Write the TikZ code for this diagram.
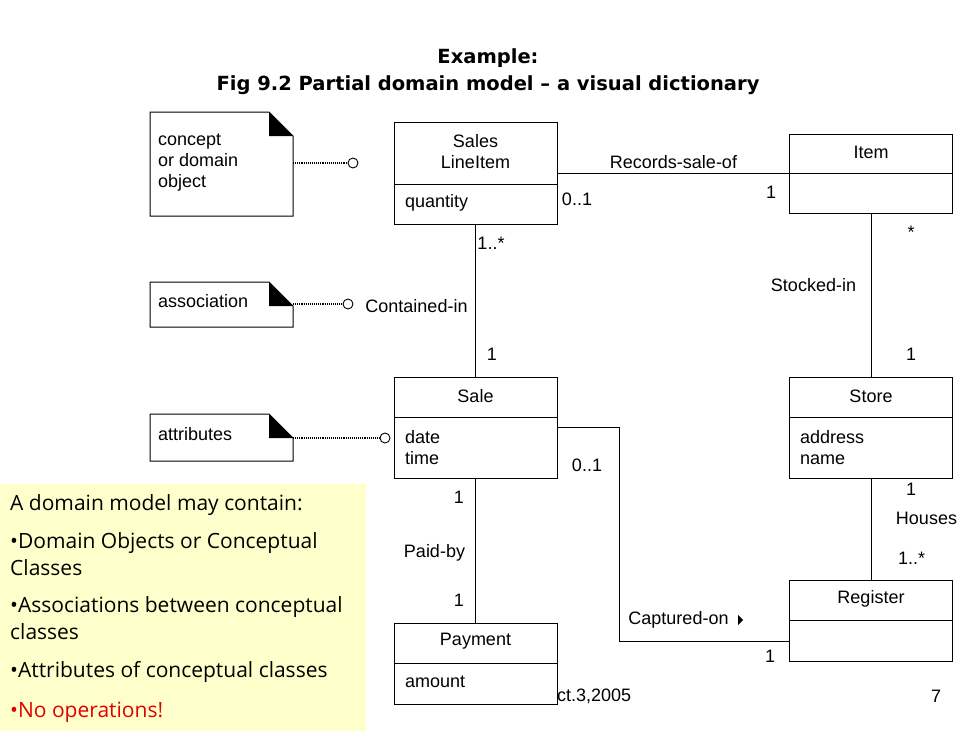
\documentclass[tikz,border=0pt]{standalone}
\usepackage{fontspec}
\setmainfont{Liberation Sans}
\newfontfamily\titlefont{DejaVu Sans}
\newfontfamily\memofont{Open Sans}
\usetikzlibrary{positioning,calc}
\definecolor{memoyellow}{RGB}{255,255,204}
\definecolor{memored}{RGB}{225,0,0}

\begin{document}
\begin{tikzpicture}[x=1pt,y=-1pt,
  every node/.style={font=\fontsize{18}{21}\selectfont},
  umlclass/.style={draw,line width=1pt,fill=white,inner sep=0pt,outer sep=0pt,minimum width=163},
  notebox/.style={inner sep=0pt,outer sep=0pt,minimum width=143},
  lbl/.style={anchor=west,inner sep=0pt,align=left},
  hook/.style={circle,draw,fill=white,inner sep=0pt,minimum size=10,line width=0.9pt},
  notelink/.style={densely dotted,line width=1.1pt},
  assoc/.style={line width=1pt},
  memotext/.style={anchor=west,inner sep=0pt,font=\memofont\fontsize{21}{25}\selectfont}]
  \useasboundingbox (0,0) rectangle (975,731);
  % ---------- title ----------
  \node[font=\titlefont\bfseries\fontsize{19.5}{23}\selectfont] (ttl) at (488,58) {Example:};
  \node[font=\titlefont\bfseries\fontsize{19.5}{23}\selectfont] (subttl) at (488,85)
    {Fig 9.2 Partial domain model – a visual dictionary};
  % ---------- footer ----------
  \node[lbl] (footdate) at (557,696) {ct.3,2005};
  \node (footpage) at (936,696) {7};
  % ---------- conceptual classes ----------
  \node[umlclass,minimum height=102] (sli) at (475.5,173) {};
  \node[umlclass,minimum height=79] (item) at (871,173.5) {};
  \node[umlclass,minimum height=101] (sale) at (475.5,427.5) {};
  \node[umlclass,minimum height=101] (store) at (871,427.5) {};
  \node[umlclass,minimum height=81] (reg) at (871,620.5) {};
  \node[umlclass,minimum height=81] (pay) at (475.5,663.5) {};
  \foreach \c/\d in {sli/184,item/173,sale/417,store/417,reg/620,pay/663}
    \draw[line width=1pt] (\c.west |- 0,\d) -- (\c.east |- 0,\d);
  \node[align=center] (slititle) at (475.5,152) {Sales\\LineItem};
  \node (itemtitle) at (871,152) {Item};
  \node (saletitle) at (475.5,396) {Sale};
  \node (storetitle) at (871,396) {Store};
  \node (regtitle) at (871,599) {Register};
  \node (paytitle) at (475.5,641) {Payment};
  \node[lbl] (sliattr) at (405,203) {quantity};
  \node[lbl] (saleattr) at (405,447.5) {date\\time};
  \node[lbl] (storeattr) at (800,447.5) {address\\name};
  \node[lbl] (payattr) at (405,682) {amount};
  % ---------- associations ----------
  \draw[assoc] (sli.east |- item.west) -- (item.west);
  \draw[assoc] (item.south) -- (store.north);
  \draw[assoc] (sli.south) -- (sale.north);
  \draw[assoc] (sale.south) -- (pay.north);
  \draw[assoc] (store.south) -- (reg.north);
  \coordinate (capbend) at (619,641);
  \draw[assoc] (sale.east) -| (capbend) -- (capbend -| reg.west);
  \node (recordslbl) at (673.5,162) {Records-sale-of};
  \node (recm1) at (577,199) {0..1};
  \node (recm2) at (771,192) {1};
  \node (stockm1) at (911,232) {*};
  \node (stocklbl) at (813.5,285) {Stocked-in};
  \node (stockm2) at (911,354) {1};
  \node (contm1) at (491,243) {1..*};
  \node (contlbl) at (416.5,306) {Contained-in};
  \node (contm2) at (492,354) {1};
  \node (capm1) at (587,465) {0..1};
  \node (caplbl) at (678.5,620) {Captured-on};
  \fill ([xshift=6pt]caplbl.east) ++(0,-5) -- ++(5,5) -- ++(-5,5) -- cycle;
  \node (capm2) at (770,656) {1};
  \node (housm1) at (911,489) {1};
  \node (houslbl) at (926.5,518) {Houses};
  \node (housm2) at (911.5,558) {1..*};
  \node (paidm1) at (459,497) {1};
  \node (paidlbl) at (434.5,553) {Paid-by};
  \node (paidm2) at (459,600) {1};
  % ---------- notes ----------
  \foreach \n/\y/\h/\ty/\t/\cy/\cx in {concept/164/104/163/{concept\\or domain\\object}/163/353,
      assoc/304.5/45/301/{association}/304/348,
      attr/437.5/47/434/{attributes}/438/385}
  {
    \node[notebox,minimum height=\h] (\n-note) at (221.5,\y) {};
    \draw[line width=1pt] (\n-note.north west) -- ([xshift=-24pt]\n-note.north east)
      -- ([yshift=-24pt]\n-note.north east) -- (\n-note.south east)
      -- (\n-note.south west) -- cycle;
    \fill ([xshift=-24pt]\n-note.north east) -- ([xshift=-24pt,yshift=-24pt]\n-note.north east)
      -- ([yshift=-24pt]\n-note.north east) -- cycle;
    \node[lbl] (\n-txt) at (158,\ty) {\t};
    \node[hook] (\n-hook) at (\cx,\cy) {};
    \draw[notelink] (\n-note.east |- \n-hook) -- (\n-hook);
  }
  % ---------- memo ----------
  \node[fill=memoyellow,anchor=north west,inner sep=0pt,minimum width=366,minimum height=247] (memo) at (0,484) {};
  \foreach \i/\y/\t in {1/505/{A domain model may contain:},
      2/543/{•Domain Objects or Conceptual},3/568/{Classes},
      4/607/{•Associations between conceptual},5/632/{classes},
      6/672/{•Attributes of conceptual classes}}
    \node[memotext] (memo\i) at (10,\y) {\t};
  \node[memotext,text=memored] (memo7) at (10,712) {•No operations!};
\end{tikzpicture}
\end{document}
